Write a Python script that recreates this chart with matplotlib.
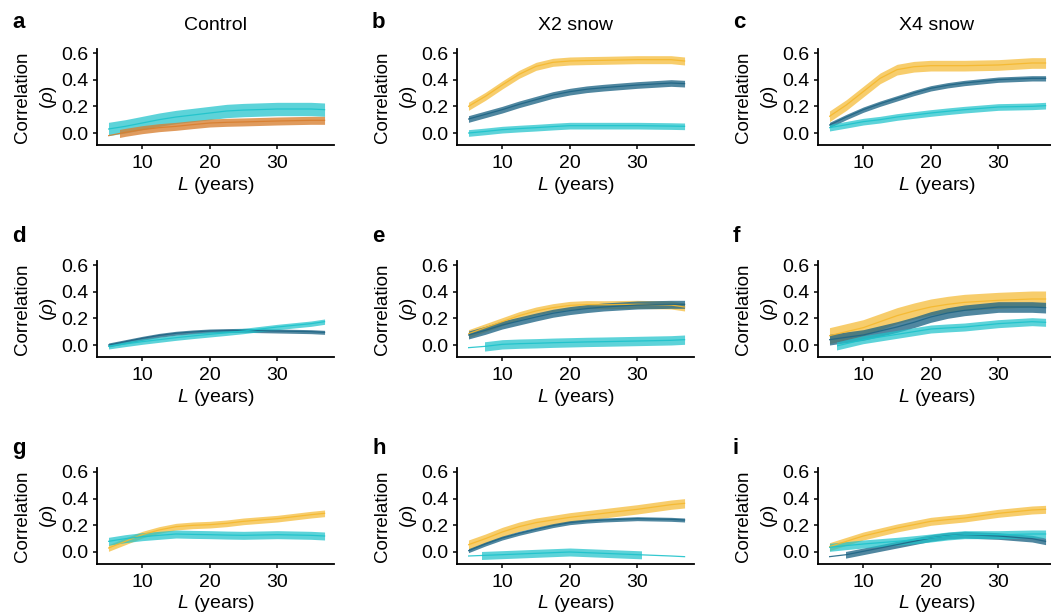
import matplotlib
matplotlib.use("Agg")
import matplotlib.pyplot as plt
from matplotlib.patches import Rectangle

plt.rcParams['font.family'] = ['Liberation Sans', 'DejaVu Sans']
plt.rcParams['mathtext.fontset'] = 'custom'
plt.rcParams['mathtext.it'] = 'Liberation Sans:italic'
plt.rcParams['mathtext.rm'] = 'Liberation Sans'

# lead time L (years)
L = [5, 7.5, 10, 12.5, 15, 17.5, 20, 22.5, 25, 30, 35, 37]

# correlation values
a_cyan = [0.03, 0.05, 0.075, 0.10, 0.12, 0.135, 0.15, 0.165, 0.172, 0.18, 0.18, 0.175]
a_orange = [-0.02, 0.005, 0.025, 0.04, 0.05, 0.063, 0.075, 0.08, 0.083, 0.09, 0.095, 0.095]

b_yellow = [0.2, 0.275, 0.36, 0.44, 0.50, 0.53, 0.54, 0.543, 0.545, 0.55, 0.55, 0.54]
b_dark = [0.105, 0.14, 0.175, 0.215, 0.25, 0.285, 0.31, 0.328, 0.34, 0.36, 0.375, 0.37]
b_cyan = [0.0, 0.012, 0.025, 0.033, 0.04, 0.048, 0.055, 0.055, 0.055, 0.055, 0.052, 0.05]

c_yellow = [0.125, 0.21, 0.31, 0.41, 0.475, 0.497, 0.505, 0.505, 0.505, 0.51, 0.525, 0.525]
c_dark = [0.06, 0.12, 0.175, 0.22, 0.26, 0.30, 0.335, 0.358, 0.375, 0.40, 0.41, 0.41]
c_cyan = [0.04, 0.062, 0.085, 0.10, 0.12, 0.135, 0.15, 0.163, 0.175, 0.195, 0.20, 0.205]

d_dark = [0.0, 0.025, 0.05, 0.072, 0.088, 0.098, 0.105, 0.108, 0.11, 0.105, 0.10, 0.095]
d_cyan = [-0.01, 0.008, 0.025, 0.04, 0.055, 0.068, 0.08, 0.092, 0.105, 0.135, 0.16, 0.175]

e_yellow = [0.085, 0.13, 0.175, 0.22, 0.255, 0.28, 0.297, 0.303, 0.302, 0.305, 0.30, 0.285]
e_dark = [0.075, 0.11, 0.15, 0.18, 0.21, 0.238, 0.258, 0.273, 0.285, 0.30, 0.305, 0.305]
e_cyan = [-0.02, -0.01, 0.005, 0.01, 0.013, 0.017, 0.02, 0.023, 0.025, 0.03, 0.035, 0.04]

f_yellow = [0.07, 0.10, 0.13, 0.175, 0.22, 0.255, 0.285, 0.305, 0.32, 0.335, 0.345, 0.345]
f_dark = [0.04, 0.058, 0.075, 0.105, 0.135, 0.17, 0.21, 0.24, 0.26, 0.285, 0.285, 0.28]
f_cyan = [-0.02, 0.01, 0.04, 0.06, 0.08, 0.10, 0.12, 0.128, 0.135, 0.16, 0.175, 0.17]

g_yellow = [0.03, 0.08, 0.13, 0.165, 0.19, 0.20, 0.205, 0.215, 0.23, 0.25, 0.28, 0.29]
g_cyan = [0.08, 0.10, 0.115, 0.125, 0.135, 0.132, 0.13, 0.127, 0.125, 0.13, 0.125, 0.12]

h_yellow = [0.055, 0.10, 0.15, 0.19, 0.22, 0.24, 0.26, 0.275, 0.29, 0.32, 0.355, 0.365]
h_dark = [0.01, 0.06, 0.105, 0.14, 0.17, 0.198, 0.22, 0.232, 0.24, 0.25, 0.245, 0.24]
h_cyan = [-0.03, -0.025, -0.02, -0.015, -0.01, -0.005, 0.0, -0.005, -0.01, -0.02, -0.03, -0.035]

i_yellow = [0.04, 0.08, 0.12, 0.15, 0.18, 0.205, 0.23, 0.243, 0.255, 0.29, 0.315, 0.32]
i_dark = [-0.035, -0.02, 0.005, 0.03, 0.055, 0.08, 0.105, 0.122, 0.13, 0.12, 0.10, 0.08]
i_cyan = [0.035, 0.048, 0.06, 0.07, 0.08, 0.092, 0.105, 0.12, 0.13, 0.13, 0.135, 0.135]

# (values, colour key, half width of band, band from, band to, line from)
panels = {
    'a': [(a_cyan, 'cyan', 0.05, 5, 37, 5), (a_orange, 'orange', 0.03, 6.7, 37, 5)],
    'b': [(b_yellow, 'yellow', 0.03, 5, 37, 5), (b_dark, 'dark', 0.025, 5, 37, 5),
          (b_cyan, 'cyan', 0.025, 5, 37, 5)],
    'c': [(c_yellow, 'yellow', 0.04, 5, 37, 5), (c_dark, 'dark', 0.02, 5, 37, 5),
          (c_cyan, 'cyan', 0.025, 5, 37, 5)],
    'd': [(d_dark, 'dark', 0.015, 5, 37, 5), (d_cyan, 'cyan', 0.02, 5, 37, 5)],
    'e': [(e_yellow, 'yellow', 0.03, 5, 37, 5), (e_dark, 'dark', 0.03, 5, 37, 5),
          (e_cyan, 'cyan', 0.035, 7.5, 37, 5)],
    'f': [(f_yellow, 'yellow', 0.06, 5, 37, 5), (f_dark, 'dark', 0.04, 5, 37, 5),
          (f_cyan, 'cyan', 0.03, 6.1, 37, 6.1)],
    'g': [(g_yellow, 'yellow', 0.025, 5, 37, 5), (g_cyan, 'cyan', 0.03, 5, 37, 5)],
    'h': [(h_yellow, 'yellow', 0.035, 5, 37, 5), (h_dark, 'dark', 0.015, 5, 37, 5),
          (h_cyan, 'cyan', 0.03, 7, 30.5, 5)],
    'i': [(i_yellow, 'yellow', 0.03, 5, 37, 5), (i_dark, 'dark', 0.025, 7.5, 37, 5),
          (i_cyan, 'cyan', 0.03, 5, 37, 5)],
}
col_titles = ['Control', 'X2 snow', 'X4 snow']

colors = {'yellow': '#F5B82E', 'cyan': '#1EC3CB', 'dark': '#1F6585', 'orange': '#D87F30'}
alphas = {'yellow': 0.7, 'cyan': 0.72, 'dark': 0.78, 'orange': 0.78}

W, H = 1051, 616
lefts = [97, 457, 818]
bottoms = [145, 357, 564]
letter_y = [28, 242, 454]
ax_w, ax_h = 237, 96
XLIM = (3.3, 38.4)
YLIM = (-0.09, 0.63)


def clip_x(artist, ax, x0, x1):
    r = Rectangle((x0, YLIM[0]), x1 - x0, YLIM[1] - YLIM[0], transform=ax.transData,
                  facecolor='none', edgecolor='none')
    artist.set_clip_path(r)


def draw_panel(ax, series):
    for vals, key, half, bx0, bx1, lx0 in series:
        lo = [v - half for v in vals]
        hi = [v + half for v in vals]
        band = ax.fill_between(L, lo, hi, color=colors[key], alpha=alphas[key], linewidth=0)
        clip_x(band, ax, bx0, bx1)
        line, = ax.plot(L, vals, color=colors[key], lw=0.9, alpha=0.9)
        clip_x(line, ax, lx0, 37.5)
    ax.set_xlim(*XLIM)
    ax.set_ylim(*YLIM)
    ax.set_xticks([10, 20, 30])
    ax.set_yticks([0.0, 0.2, 0.4, 0.6])
    ax.set_yticklabels(['0.0', '0.2', '0.4', '0.6'])
    for s in ['top', 'right']:
        ax.spines[s].set_visible(False)
    for s in ['left', 'bottom']:
        ax.spines[s].set_linewidth(1.3)
    ax.tick_params(labelsize=14, length=3, width=1.1, pad=3)
    ax.tick_params(axis='x', pad=4)
    ax.set_xlabel(r'$L$ (years)', fontsize=14, labelpad=2)
    ax.set_ylabel('Correlation\n' + r'($\rho$)', fontsize=13.5, linespacing=1.45)
    ax.yaxis.set_label_coords(-0.16, 0.5)


fig = plt.figure(figsize=(W / 100, H / 100), dpi=100)
letters = 'abcdefghi'
for r in range(3):
    for c in range(3):
        k = letters[r * 3 + c]
        ax = fig.add_axes([lefts[c] / W, 1 - bottoms[r] / H, ax_w / W, ax_h / H])
        draw_panel(ax, panels[k])
        if r == 0:
            ax.set_title(col_titles[c], fontsize=14, pad=14)
        fig.text((lefts[c] - 85) / W, 1 - letter_y[r] / H, k, fontsize=16,
                 fontweight='bold', va='baseline')

fig.savefig('out.png', dpi=100)
